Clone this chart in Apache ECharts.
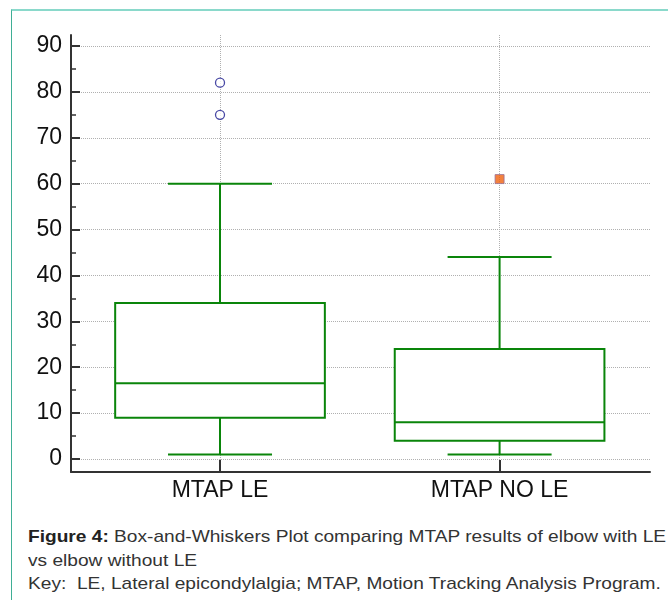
<!DOCTYPE html>
<html>
<head>
<meta charset="utf-8">
<script src="https://cdn.jsdelivr.net/npm/echarts@6/dist/echarts.min.js"></script>
<style>
  html, body { margin: 0; padding: 0; background: #fff; }
  body { width: 668px; height: 600px; position: relative; overflow: hidden; font-family: "Liberation Sans", Arial, sans-serif; }
  #frame { position: absolute; left: 11px; top: 9px; right: 0; bottom: 0; border-top: 2px solid #8ad9cb; border-left: 1px solid #3fae95; }
  #chart { position: absolute; left: 0; top: 0; width: 668px; height: 520px; }
  #caption { position: absolute; left: 28px; top: 525px; font-size: 17px; line-height: 23.5px; color: #333; white-space: nowrap;
             transform: scaleX(1.125); transform-origin: 0 0; }
  #caption b { color: #222; }
</style>
</head>
<body>
<div id="frame"></div>
<div id="chart"></div>
<div id="caption">
  <b>Figure 4:</b> Box-and-Whiskers Plot comparing MTAP results of elbow with LE<br>
  vs elbow without LE<br>
  Key:&nbsp; LE, Lateral epicondylalgia; MTAP, Motion Tracking Analysis Program.
</div>
<script>
const categories = ['MTAP LE', 'MTAP NO LE'];
const whiskerLow = [1, 1];
const q1 = [9, 4];
const median = [16.5, 8];
const q3 = [34, 24];
const whiskerHigh = [60, 44];
const outliersLE = [82, 75];
const outliersNoLE = [61];
const yTicks = [0, 10, 20, 30, 40, 50, 60, 70, 80, 90];
const yMinorTicks = [5, 15, 25, 35, 45, 55, 65, 75, 85];

const GREEN = '#0a850a';
const BOX_WIDTH = 0.75;
const CAP_WIDTH = 0.372;

const chart = echarts.init(document.getElementById('chart'));

const boxData = categories.map((c, i) => [i + 1, whiskerLow[i], q1[i], median[i], q3[i], whiskerHigh[i]]);

function renderBox(params, api) {
  const x = api.value(0);
  const pLow = api.coord([x, api.value(1)]);
  const pQ1 = api.coord([x, api.value(2)]);
  const pMed = api.coord([x, api.value(3)]);
  const pQ3 = api.coord([x, api.value(4)]);
  const pHigh = api.coord([x, api.value(5)]);
  const unit = api.size([1, 0])[0];
  const bw = unit * BOX_WIDTH;
  const cw = unit * CAP_WIDTH;
  const cx = pMed[0];
  const line = { stroke: GREEN, lineWidth: 2 };
  return {
    type: 'group',
    children: [
      { type: 'line', shape: { x1: cx, y1: pQ3[1], x2: cx, y2: pHigh[1] }, style: line },
      { type: 'line', shape: { x1: cx, y1: pQ1[1], x2: cx, y2: pLow[1] }, style: line },
      { type: 'line', shape: { x1: cx - cw / 2, y1: pHigh[1], x2: cx + cw / 2, y2: pHigh[1] }, style: line },
      { type: 'line', shape: { x1: cx - cw / 2, y1: pLow[1], x2: cx + cw / 2, y2: pLow[1] }, style: line },
      { type: 'rect', shape: { x: cx - bw / 2, y: pQ3[1], width: bw, height: pQ1[1] - pQ3[1] },
        style: { fill: '#fff', stroke: GREEN, lineWidth: 2 } },
      { type: 'line', shape: { x1: cx - bw / 2, y1: pMed[1], x2: cx + bw / 2, y2: pMed[1] }, style: line }
    ]
  };
}

const yMin = -2.83, yMax = 92.4;

const option = {
  animation: false,
  grid: { left: 71, top: 35, width: 579, height: 437, containLabel: false, outerBoundsMode: 'none' },
  xAxis: {
    type: 'value',
    min: 0.467,
    max: 2.538,
    axisLine: { onZero: false, lineStyle: { color: '#333', width: 2 } },
    axisTick: { inside: true, length: 12, customValues: [1, 2], lineStyle: { color: '#333', width: 2 } },
    axisLabel: {
      customValues: [1, 2],
      formatter: v => categories[Math.round(v) - 1] || '',
      fontSize: 23, color: '#111', margin: 7,
      fontFamily: 'Liberation Sans'
    },
    splitLine: { show: true, lineStyle: { color: '#b0b0b0', type: 'dotted', width: 1 } }
  },
  yAxis: [
    {
      type: 'value',
      position: 'left',
      min: yMin,
      max: yMax,
      axisLine: { show: true, onZero: false, lineStyle: { color: '#333', width: 2 } },
      axisTick: { show: true, inside: true, length: 9, customValues: yTicks, lineStyle: { color: '#333', width: 2 } },
      axisLabel: { customValues: yTicks, fontSize: 23, color: '#111', margin: 9, fontFamily: 'Liberation Sans' },
      splitLine: { show: true, lineStyle: { color: '#b0b0b0', type: 'dotted', width: 1 } }
    },
    {
      type: 'value',
      position: 'left',
      offset: 0,
      min: yMin,
      max: yMax,
      axisLine: { show: false, onZero: false },
      axisTick: { show: true, inside: true, length: 5, customValues: yMinorTicks, lineStyle: { color: '#333', width: 1.5 } },
      axisLabel: { show: false },
      splitLine: { show: false }
    }
  ],
  series: [
    {
      type: 'custom',
      renderItem: renderBox,
      data: boxData,
      encode: { x: 0, y: [1, 2, 3, 4, 5] },
      z: 3
    },
    {
      type: 'scatter',
      data: outliersLE.map(v => [1, v]),
      symbol: 'circle',
      symbolSize: 9,
      itemStyle: { color: '#fff', borderColor: '#1c1c8f', borderWidth: 1.3 },
      z: 4
    },
    {
      type: 'scatter',
      data: outliersNoLE.map(v => [2, v]),
      symbol: 'rect',
      symbolSize: 9,
      itemStyle: { color: '#f0620e', borderColor: '#9a6f93', borderWidth: 1 },
      z: 4
    }
  ]
};

chart.setOption(option);
</script>
</body>
</html>
